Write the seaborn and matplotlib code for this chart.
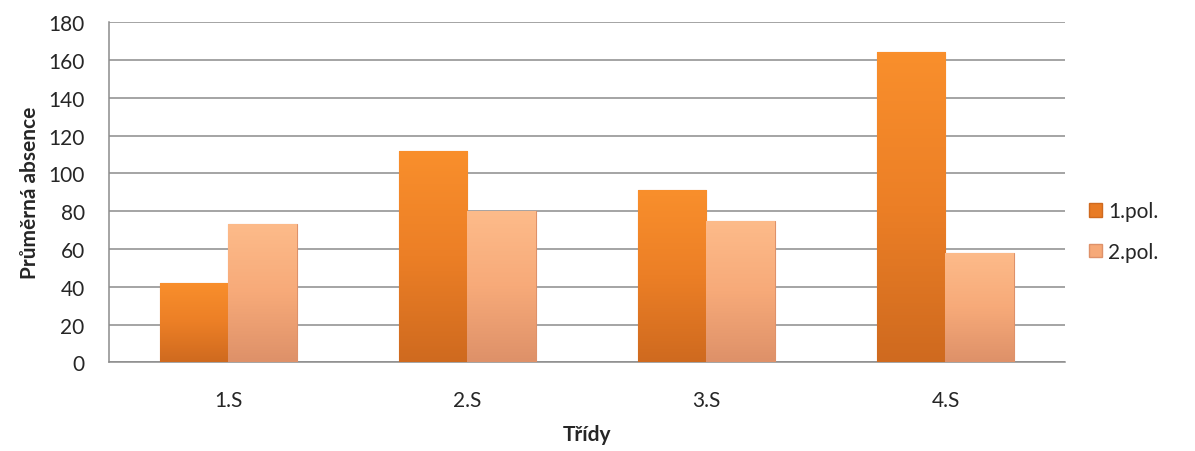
import numpy as np
import pandas as pd
import matplotlib
matplotlib.use("Agg")
import matplotlib.pyplot as plt
import matplotlib.colors as mcolors
from matplotlib.patches import Patch
import seaborn as sns

# data
tridy = ["1.S", "2.S", "3.S", "4.S"]
pol1 = [42, 112, 91, 164]
pol2 = [73, 80, 75, 58]
serie = ["1.pol.", "2.pol."]

df = pd.DataFrame({
    "Třídy": tridy * 2,
    "absence": pol1 + pol2,
    "pololetí": [serie[0]] * 4 + [serie[1]] * 4,
})

barvy = {"1.pol.": "#E87B25", "2.pol.": "#F6A978"}
gradienty = {
    "1.pol.": ["#F98F2C", "#EC7F26", "#CF6A1F"],
    "2.pol.": ["#FDBB8A", "#F7AA79", "#DE9169"],
}

sns.set_style("white")
plt.rcParams["font.family"] = ["Lato", "DejaVu Sans"]

fig = plt.figure(figsize=(11.95, 4.52), dpi=100)
ax = fig.add_axes([0.0912, 0.196, 0.8, 0.753])

sns.barplot(data=df, x="Třídy", y="absence", hue="pololetí", palette=barvy,
            width=0.572, gap=0, ax=ax, legend=False, saturation=1,
            edgecolor="none")

# gradient fill inside each bar (shaded Excel look)
for i, cont in enumerate(ax.containers):
    cmap = mcolors.LinearSegmentedColormap.from_list("g", gradienty[serie[i]])
    for p in cont.patches:
        x0, w, h = p.get_x(), p.get_width(), p.get_height()
        grad = np.linspace(0, 1, 100).reshape(-1, 1)
        im = ax.imshow(grad, extent=(x0, x0 + w, 0, h), origin="upper",
                       cmap=cmap, aspect="auto", zorder=3)
        im.set_clip_path(p)
        p.set_edgecolor(gradienty[serie[i]][2])
        p.set_linewidth(0.8)
        p.set_zorder(3)

ax.set_xlim(-0.5, 3.5)
ax.set_ylim(0, 180)
ax.set_yticks(range(0, 181, 20))
ax.grid(axis="y", color="#8C8C8C", linewidth=1.1, zorder=0)
ax.set_axisbelow(True)

for s in ["top", "right"]:
    ax.spines[s].set_visible(False)
for s in ["left", "bottom"]:
    ax.spines[s].set_color("#8C8C8C")
    ax.spines[s].set_linewidth(1.1)

ax.tick_params(axis="y", length=6.5, color="#8C8C8C", width=1.1,
               labelsize=15, pad=11)
ax.tick_params(axis="x", length=0, labelsize=15, pad=20)
ax.set_xticks(np.arange(-0.5, 3.6, 1), minor=True)
ax.tick_params(axis="x", which="minor", length=6, color="#8C8C8C", width=1.1)

ax.set_xlabel("Třídy", fontsize=15, fontweight="bold", labelpad=10)
ax.set_ylabel("Průměrná absence", fontsize=15, fontweight="bold", labelpad=6)

handles = [Patch(facecolor=barvy[s], edgecolor=gradienty[s][2]) for s in serie]
ax.legend(handles, serie, loc="center left", bbox_to_anchor=(1.005, 0.385),
          frameon=False, fontsize=15, handlelength=0.65, handleheight=0.65,
          handletextpad=0.3, labelspacing=1.0)

fig.savefig("out.png", dpi=100)
